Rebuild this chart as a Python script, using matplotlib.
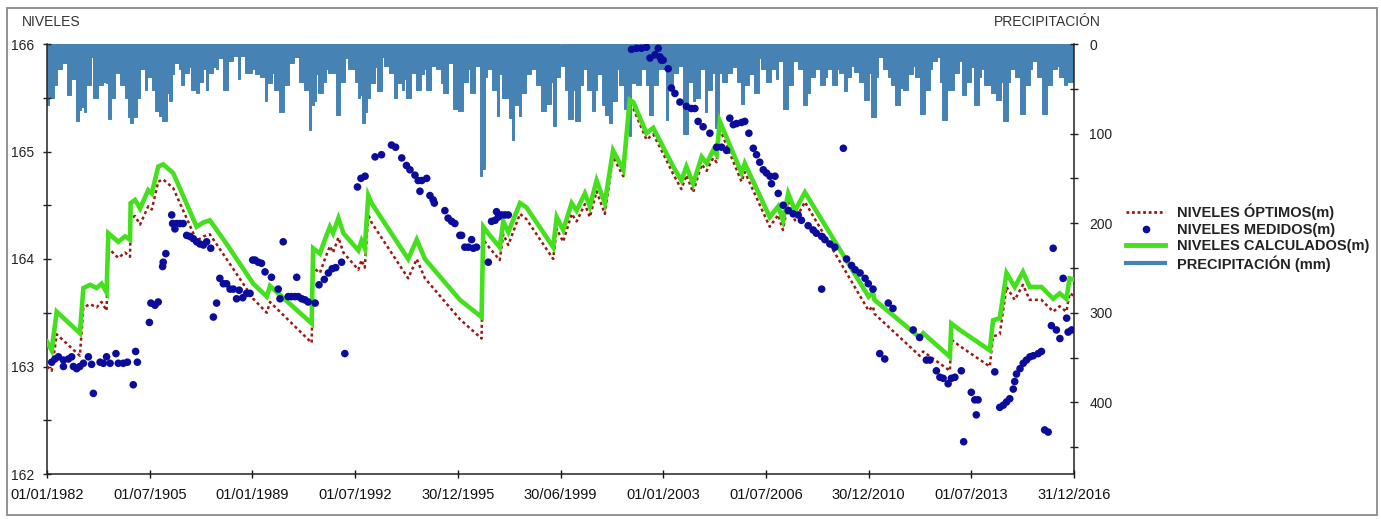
import numpy as np
import matplotlib
matplotlib.use("Agg")
import matplotlib.pyplot as plt
from matplotlib.lines import Line2D
from matplotlib.patches import Rectangle
from matplotlib.ticker import MultipleLocator, FixedLocator

plt.rcParams['font.family'] = ['Liberation Sans', 'DejaVu Sans']

# ---------------- data ----------------
x_labels = ['01/01/1982', '01/07/1905', '01/01/1989', '01/07/1992', '30/12/1995',
            '30/06/1999', '01/01/2003', '01/07/2006', '30/12/2010', '01/07/2013',
            '31/12/2016']
start_year = 1982

# monthly precipitation (mm), Jan 1982 .. Dec 2016
precip = [
    68, 60, 60, 46, 28, 28, 21, 21, 57, 57, 39, 39,
    86, 74, 70, 76, 46, 46, 15, 60, 60, 46, 46, 42,
    44, 84, 60, 60, 32, 32, 46, 46, 60, 82, 88, 82,
    82, 60, 28, 28, 51, 37, 37, 51, 75, 75, 80, 86,
    86, 55, 64, 34, 21, 21, 28, 46, 32, 32, 26, 51,
    51, 55, 42, 42, 28, 51, 32, 32, 26, 28, 16, 16,
    51, 51, 19, 19, 13, 13, 39, 13, 13, 32, 32, 32,
    28, 34, 34, 37, 37, 64, 44, 44, 32, 51, 51, 76,
    76, 46, 46, 21, 21, 15, 15, 42, 42, 51, 51, 96,
    68, 64, 34, 55, 55, 42, 28, 32, 32, 32, 79, 79,
    42, 42, 16, 28, 28, 28, 42, 60, 57, 88, 76, 60,
    44, 44, 26, 52, 52, 15, 24, 24, 32, 32, 60, 44,
    44, 51, 39, 60, 60, 32, 32, 51, 51, 34, 28, 51,
    51, 24, 24, 28, 28, 44, 55, 55, 21, 21, 73, 73,
    75, 75, 42, 42, 28, 55, 55, 24, 24, 147, 140, 37,
    28, 28, 51, 51, 80, 34, 60, 60, 60, 83, 107, 68,
    68, 80, 55, 55, 34, 34, 28, 28, 46, 46, 75, 75,
    67, 67, 42, 92, 37, 37, 24, 24, 51, 84, 84, 51,
    86, 86, 46, 28, 28, 51, 51, 75, 51, 34, 34, 68,
    79, 79, 88, 64, 64, 28, 46, 46, 73, 73, 103, 44,
    44, 46, 46, 28, 28, 46, 79, 79, 46, 46, 28, 28,
    28, 85, 51, 51, 32, 32, 24, 24, 100, 100, 42, 42,
    64, 60, 60, 28, 28, 76, 51, 51, 32, 94, 94, 32,
    42, 42, 32, 32, 26, 26, 42, 42, 67, 46, 46, 34,
    34, 55, 55, 16, 28, 28, 42, 42, 28, 28, 39, 19,
    19, 73, 73, 46, 46, 19, 19, 28, 28, 68, 68, 55,
    37, 37, 28, 28, 46, 46, 37, 28, 28, 46, 46, 28,
    32, 32, 52, 37, 37, 24, 31, 31, 42, 42, 62, 62,
    32, 82, 82, 37, 15, 15, 28, 28, 37, 46, 46, 68,
    68, 49, 51, 51, 34, 34, 24, 37, 37, 78, 78, 51,
    51, 28, 19, 19, 15, 42, 85, 85, 51, 51, 51, 32,
    32, 19, 57, 57, 42, 42, 26, 68, 68, 37, 28, 46,
    46, 46, 55, 55, 62, 62, 42, 86, 86, 42, 28, 28,
    37, 37, 78, 78, 46, 46, 28, 19, 19, 37, 37, 78,
    78, 46, 46, 28, 28, 24, 37, 37, 46, 42, 42, 42,
]

# NIVELES CALCULADOS (m): date (decimal year), level
calc_t = [1982.00, 1982.16, 1982.33, 1983.12, 1983.24, 1983.47, 1983.69, 1983.86, 1984.03,
          1984.09, 1984.43, 1984.66, 1984.83, 1984.85, 1985.00, 1985.17, 1985.45, 1985.57,
          1985.79, 1985.96, 1986.30, 1987.10, 1987.33, 1987.55, 1988.12, 1989.03, 1989.49,
          1989.60, 1991.02, 1991.07, 1991.30, 1991.47, 1991.64, 1991.75, 1991.93, 1992.10,
          1992.61, 1992.72, 1992.83, 1992.95, 1993.06, 1994.31, 1994.60, 1994.88, 1996.07,
          1996.81, 1996.87, 1997.09, 1997.43, 1997.55, 1997.72, 1998.12, 1998.34, 1999.25,
          1999.37, 1999.59, 1999.88, 2000.05, 2000.33, 2000.50, 2000.73, 2001.01, 2001.29,
          2001.64, 2001.86, 2001.98, 2002.43, 2002.66, 2003.00, 2003.34, 2003.62, 2003.79,
          2004.02, 2004.31, 2004.48, 2004.70, 2004.82, 2004.93, 2005.67, 2005.78, 2006.63,
          2006.92, 2007.08, 2007.26, 2007.49, 2007.83, 2010.00, 2010.15, 2010.20, 2011.74,
          2011.86, 2012.77, 2012.82, 2013.11, 2014.13, 2014.24, 2014.47, 2014.70, 2014.98,
          2015.26, 2015.49, 2015.89, 2016.29, 2016.51, 2016.74, 2016.85, 2016.99]
calc_v = [163.23, 163.15, 163.51, 163.31, 163.73, 163.76, 163.73, 163.77, 163.69,
          164.24, 164.16, 164.21, 164.18, 164.52, 164.55, 164.47, 164.64, 164.61,
          164.86, 164.88, 164.80, 164.30, 164.34, 164.36, 164.14, 163.77, 163.65,
          163.75, 163.40, 164.10, 164.05, 164.18, 164.30, 164.24, 164.38, 164.24,
          164.08, 164.17, 164.10, 164.59, 164.52, 164.00, 164.18, 164.00, 163.62,
          163.46, 164.30, 164.22, 164.11, 164.35, 164.25, 164.52, 164.48, 164.11,
          164.39, 164.27, 164.52, 164.45, 164.61, 164.49, 164.73, 164.52, 165.01,
          164.83, 165.48, 165.46, 165.17, 165.22, 165.04, 164.86, 164.73, 164.86,
          164.70, 164.95, 164.89, 165.01, 164.97, 165.28, 164.80, 164.89, 164.39,
          164.49, 164.36, 164.61, 164.45, 164.62, 163.65, 163.69, 163.62, 163.27,
          163.31, 163.09, 163.40, 163.34, 163.15, 163.43, 163.45, 163.87, 163.74,
          163.88, 163.74, 163.74, 163.63, 163.68, 163.63, 163.82, 163.81]

# NIVELES OPTIMOS (m)
opt_v = [163.00, 162.96, 163.30, 163.10, 163.55, 163.58, 163.55, 163.60, 163.52,
         164.10, 164.01, 164.06, 164.02, 164.38, 164.40, 164.32, 164.49, 164.46,
         164.72, 164.74, 164.66, 164.17, 164.21, 164.23, 164.00, 163.63, 163.50,
         163.60, 163.22, 163.92, 163.87, 164.00, 164.12, 164.06, 164.20, 164.06,
         163.90, 163.99, 163.92, 164.41, 164.34, 163.82, 164.00, 163.82, 163.44,
         163.26, 164.18, 164.10, 163.99, 164.23, 164.13, 164.42, 164.37, 164.00,
         164.28, 164.16, 164.42, 164.35, 164.51, 164.39, 164.63, 164.42, 164.95,
         164.77, 165.43, 165.40, 165.11, 165.16, 164.98, 164.79, 164.65, 164.78,
         164.62, 164.88, 164.82, 164.94, 164.90, 165.21, 164.72, 164.81, 164.30,
         164.41, 164.27, 164.53, 164.36, 164.53, 163.52, 163.56, 163.49, 163.10,
         163.14, 162.96, 163.25, 163.19, 163.00, 163.28, 163.30, 163.74, 163.62,
         163.76, 163.62, 163.62, 163.51, 163.56, 163.51, 163.68, 163.66]

# NIVELES MEDIDOS (m)
meas_t = [1982.16, 1982.27, 1982.39, 1982.56, 1982.56, 1982.73, 1982.84, 1982.90, 1983.01,
          1983.12, 1983.24, 1983.41, 1983.52, 1983.58, 1983.81, 1983.92, 1984.03, 1984.15,
          1984.35, 1984.43, 1984.60, 1984.74, 1984.94, 1985.02, 1985.08,
          1985.49, 1985.54, 1985.68, 1985.79, 1985.94, 1985.96, 1986.05, 1986.25, 1986.28,
          1986.36, 1986.42, 1986.53, 1986.64, 1986.76, 1986.87, 1986.98, 1987.10, 1987.21,
          1987.33, 1987.44, 1987.58, 1987.67, 1987.78, 1987.89, 1988.01, 1988.12, 1988.24,
          1988.35, 1988.46, 1988.55, 1988.67, 1988.80, 1988.92, 1989.01,
          1989.09, 1989.20, 1989.31, 1989.43, 1989.65, 1989.88, 1989.94, 1990.05, 1990.22,
          1990.33, 1990.45, 1990.51, 1990.56, 1990.68, 1990.79, 1990.90, 1991.14, 1991.27,
          1991.45, 1991.59, 1991.72, 1991.84, 1992.04, 1992.15, 1992.58, 1992.70, 1992.84,
          1993.18, 1993.40, 1993.74, 1993.88, 1994.09, 1994.25, 1994.37, 1994.54, 1994.65,
          1994.77, 1994.94, 1994.71, 1995.05, 1995.16, 1995.20, 1995.56, 1995.67, 1995.79,
          1995.90, 1996.07, 1996.13, 1996.24, 1996.36, 1996.47, 1996.53, 1996.64, 1997.04,
          1997.15, 1997.27, 1997.32, 1997.38, 1997.49, 1997.61, 1997.72,
          2001.92, 2002.09, 2002.26, 2002.43, 2002.55, 2002.72, 2002.83, 2002.89, 2003.00,
          2002.94, 2003.17, 2003.28, 2003.40, 2003.57, 2003.79, 2003.96, 2004.08, 2004.19,
          2004.36, 2004.59, 2004.82, 2004.99, 2005.16, 2005.27, 2005.39, 2005.50, 2005.67,
          2005.78, 2005.92, 2006.07, 2006.18, 2006.29, 2006.41, 2006.52, 2006.64, 2006.69,
          2006.81, 2006.92, 2007.09, 2007.26, 2007.43, 2007.60, 2007.71, 2007.94, 2008.11,
          2008.22, 2008.40, 2008.40, 2008.51, 2008.68, 2008.85, 2009.14, 2009.25, 2009.42,
          2009.54, 2009.71, 2009.88, 2009.99,
          2010.15, 2010.38, 2010.55, 2010.67, 2010.83, 2011.52, 2011.74, 2011.97, 2012.09,
          2012.31, 2012.43, 2012.54, 2012.71, 2012.82, 2012.94, 2013.16, 2013.24, 2013.50,
          2013.62, 2013.73, 2013.67, 2014.30, 2014.47, 2014.59, 2014.70, 2014.81, 2014.93,
          2014.98, 2015.04, 2015.16, 2015.27, 2015.38, 2015.50, 2015.61, 2015.78, 2015.89,
          2016.00, 2016.12, 2016.23, 2016.29, 2016.40, 2016.52, 2016.63, 2016.75, 2016.80,
          2016.92]
meas_v = [163.04, 163.07, 163.09, 163.06, 163.00, 163.07, 163.09, 163.00, 162.98,
          163.00, 163.03, 163.09, 163.02, 162.75, 163.04, 163.03, 163.09, 163.03,
          163.12, 163.03, 163.03, 163.04, 162.83, 163.14, 163.04,
          163.41, 163.59, 163.57, 163.60, 163.93, 163.97, 164.05, 164.41, 164.33,
          164.28, 164.33, 164.33, 164.33, 164.22, 164.21, 164.19, 164.16, 164.14,
          164.13, 164.16, 164.10, 163.46, 163.59, 163.82, 163.77, 163.77, 163.72,
          163.72, 163.63, 163.71, 163.64, 163.68, 163.68, 163.99,
          163.99, 163.97, 163.96, 163.88, 163.83, 163.72, 163.63, 164.16, 163.65,
          163.65, 163.65, 163.83, 163.65, 163.63, 163.62, 163.60, 163.59, 163.76,
          163.81, 163.87, 163.91, 163.92, 163.97, 163.12, 164.67, 164.75, 164.77,
          164.95, 164.97, 165.06, 165.04, 164.94, 164.87, 164.83, 164.78, 164.73,
          164.73, 164.75, 164.63, 164.59, 164.55, 164.52, 164.45, 164.38, 164.35,
          164.33, 164.22, 164.22, 164.11, 164.11, 164.18, 164.10, 164.11, 163.97,
          164.35, 164.36, 164.44, 164.39, 164.41, 164.41, 164.41,
          165.95, 165.96, 165.96, 165.97, 165.87, 165.90, 165.96, 165.88, 165.85,
          165.85, 165.77, 165.59, 165.54, 165.46, 165.42, 165.40, 165.40, 165.28,
          165.23, 165.17, 165.04, 165.04, 165.01, 165.31, 165.25, 165.26, 165.27,
          165.28, 165.17, 165.03, 164.97, 164.90, 164.83, 164.80, 164.77, 164.70,
          164.77, 164.61, 164.50, 164.45, 164.42, 164.41, 164.36, 164.31, 164.27,
          164.24, 164.21, 163.72, 164.18, 164.14, 164.11, 165.03, 164.00, 163.94,
          163.90, 163.87, 163.82, 163.77,
          163.72, 163.12, 163.07, 163.59, 163.54, 163.34, 163.27, 163.06, 163.06,
          162.96, 162.90, 162.89, 162.84, 162.89, 162.90, 162.96, 162.30, 162.76,
          162.69, 162.69, 162.55, 162.95, 162.62, 162.64, 162.67, 162.70, 162.79,
          162.86, 162.93, 162.98, 163.03, 163.06, 163.09, 163.10, 163.12, 163.14,
          162.41, 162.39, 163.38, 164.10, 163.34, 163.26, 163.82, 163.45, 163.32,
          163.34]

# ---------------- figure ----------------
W, H = 1381, 519
fig = plt.figure(figsize=(W / 100, H / 100), dpi=100)
fig.patch.set_facecolor('white')

ax = fig.add_axes([47 / W, 1 - 474 / H, (1074 - 47) / W, (474 - 44) / H])
ax2 = ax.twinx()
ax.set_zorder(ax2.get_zorder() + 1)
ax.patch.set_visible(False)

# precipitation bars (right axis, inverted)
p_x = start_year + (np.arange(len(precip)) + 0.5) / 12.0
ax2.bar(p_x, precip, width=1 / 12.0, color='#4682B4', edgecolor='#4682B4',
        linewidth=0.7, align='center')
ax2.set_ylim(480, 0)

# levels
ax.plot(calc_t, opt_v, color='#9a1a12', lw=1.8, ls=(0, (1.2, 1.2)), zorder=3)
ax.plot(calc_t, calc_v, color='#44E01E', lw=3.3, solid_joinstyle='miter', zorder=4)
ax.scatter(meas_t, meas_v, s=30, color='#0c0c9c', edgecolors='none', zorder=5,
           clip_on=True)

ax.set_xlim(start_year, start_year + 35)
ax.set_ylim(162, 166)

xt = [start_year + 3.5 * k for k in range(len(x_labels))]
ax.set_xticks(xt)
ax.set_xticklabels(x_labels)
ax.yaxis.set_major_locator(MultipleLocator(1))
ax.yaxis.set_minor_locator(MultipleLocator(0.5))
ax.yaxis.set_major_formatter(matplotlib.ticker.FormatStrFormatter('%d'))
ax2.yaxis.set_major_locator(FixedLocator([0, 100, 200, 300, 400]))
ax2.yaxis.set_minor_locator(FixedLocator([50, 150, 250, 350, 450]))

tick_col = '#222222'
ax.tick_params(axis='x', direction='inout', length=6, width=1, pad=7,
               labelsize=10.5, colors='#111111')
ax.tick_params(axis='y', which='both', direction='inout', length=6, width=1, pad=6,
               labelsize=10, colors=tick_col)
ax2.tick_params(axis='y', which='both', direction='inout', length=6, width=1, pad=8,
                labelsize=10, colors=tick_col)

for a in (ax, ax2):
    a.spines['top'].set_visible(False)
ax.spines['right'].set_visible(False)
ax2.spines['left'].set_visible(False)
ax2.spines['bottom'].set_visible(False)
for s in (ax.spines['left'], ax.spines['bottom'], ax2.spines['right']):
    s.set_color('#222222')
    s.set_linewidth(1.1)

# axis titles
fig.text(22 / W, 1 - 22 / H, 'NIVELES', ha='left', va='center', fontsize=10, color='#333333')
fig.text(1101 / W, 1 - 22 / H, 'PRECIPITACIÓN', ha='right', va='center', fontsize=10,
         color='#333333')

# legend
handles = [
    Line2D([], [], color='#9a1a12', lw=2.0, ls=(0, (1.0, 1.0))),
    Line2D([], [], color='#0c0c9c', marker='o', ls='none', markersize=4.5),
    Line2D([], [], color='#44E01E', lw=3.5),
    Line2D([], [], color='#4682B4', lw=3.0),
]
labels = ['NIVELES ÓPTIMOS(m)', 'NIVELES MEDIDOS(m)', 'NIVELES CALCULADOS(m)',
          'PRECIPITACIÓN (mm)']
fig.legend(handles, labels, loc='upper left', bbox_to_anchor=(1126 / W, 1 - 204 / H),
           frameon=False, handlelength=2.7, handletextpad=0.8, labelspacing=0.15,
           borderpad=0, borderaxespad=0,
           prop={'family': ['Liberation Sans', 'DejaVu Sans'], 'weight': 'bold', 'size': 10.5},
           labelcolor='#222222')

# outer frame
fig.patches.append(Rectangle((7 / W, 1 - 515 / H), 1370 / W, 507 / H,
                             transform=fig.transFigure, fill=False,
                             edgecolor='#8a8a8a', lw=1.3))

fig.savefig('out.png', dpi=100)
